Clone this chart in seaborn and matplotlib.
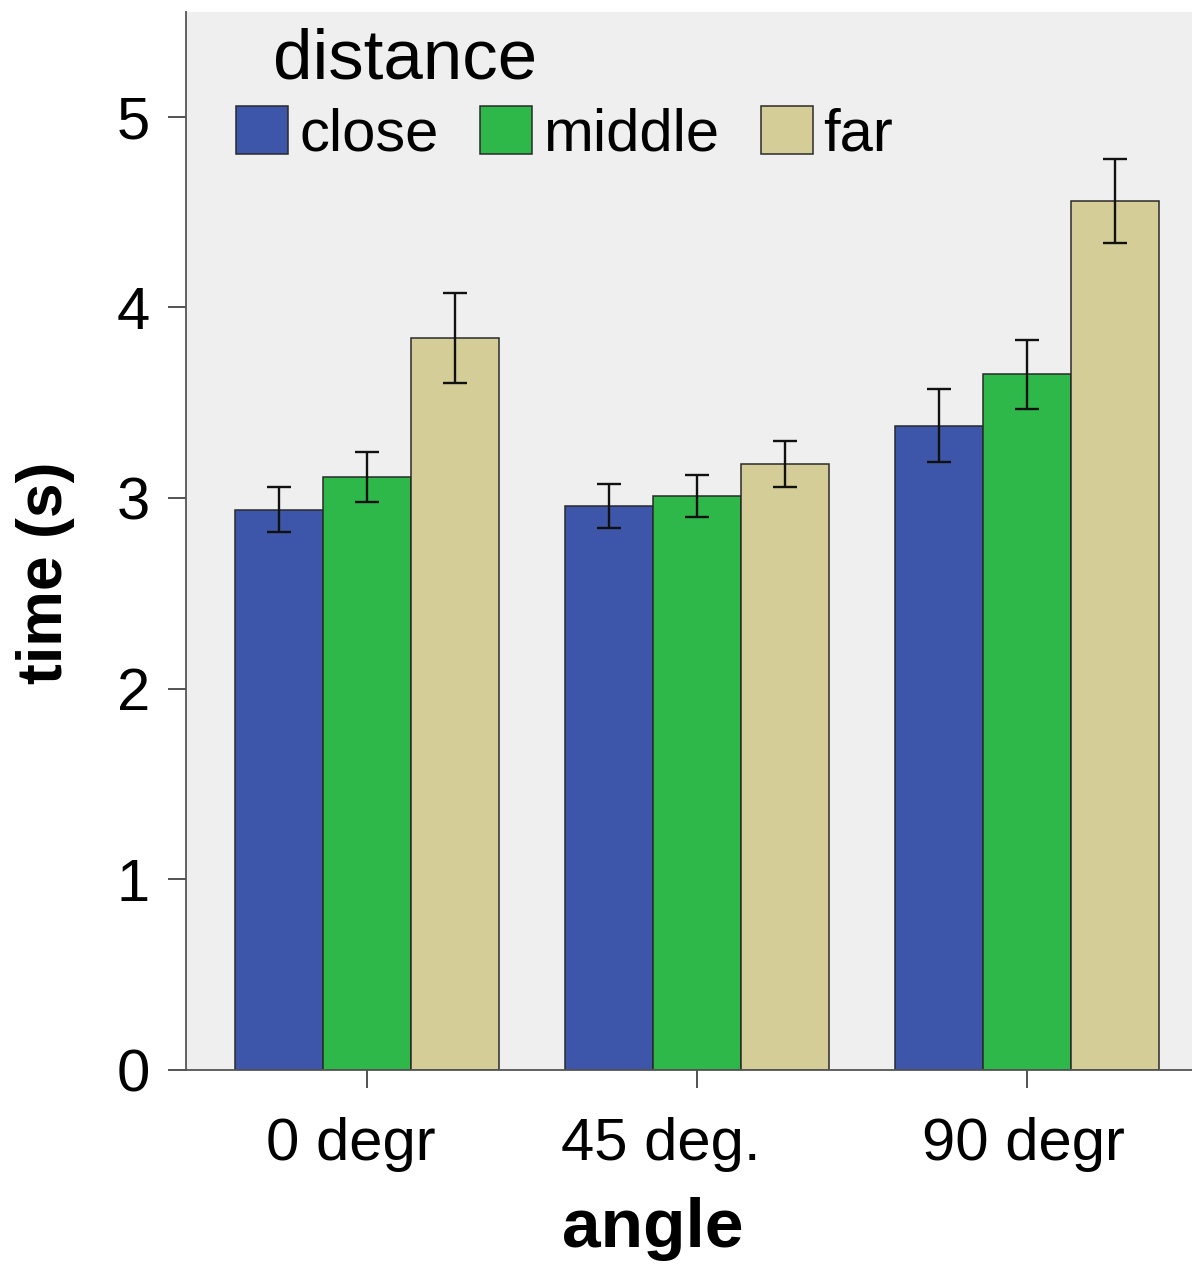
import numpy as np
import pandas as pd
import matplotlib
matplotlib.use("Agg")
import matplotlib.pyplot as plt
import matplotlib.transforms as mtrans
import seaborn as sns

# values
angles = ["0 degr", "45 deg.", "90 degr"]
distances = ["close", "middle", "far"]
time_close = [2.94, 2.96, 3.38]
time_middle = [3.11, 3.01, 3.65]
time_far = [3.84, 3.18, 4.56]
err_close = [0.12, 0.115, 0.19]
err_middle = [0.13, 0.11, 0.18]
err_far = [0.235, 0.12, 0.22]

colors = {"close": "#3e56a9", "middle": "#2eb84a", "far": "#d4cd97"}

rows = []
for d, vals, errs in zip(distances, [time_close, time_middle, time_far],
                         [err_close, err_middle, err_far]):
    for a, v, e in zip(angles, vals, errs):
        rows.append({"angle": a, "distance": d, "time": v, "err": e})
df = pd.DataFrame(rows)

sns.set_style("ticks")
plt.rcParams["font.family"] = ["Liberation Sans", "DejaVu Sans"]
plt.rcParams["text.color"] = "black"
plt.rcParams["axes.labelcolor"] = "black"

fig = plt.figure(figsize=(11.92, 12.69), dpi=100)
ax = fig.add_axes([186 / 1192, 199 / 1269, 1006 / 1192, 1058 / 1269])
ax.set_facecolor("#efefef")

sns.barplot(data=df, x="angle", y="time", hue="distance", order=angles,
            hue_order=distances, palette=colors, saturation=1, errorbar=None,
            edgecolor="#2a2a2a", linewidth=1.1, ax=ax)

# error bars at the centres of the bars seaborn drew
for cont, d in zip(ax.containers, distances):
    sub = df[df["distance"] == d].set_index("angle").loc[angles]
    xs = [p.get_x() + p.get_width() / 2 for p in cont.patches]
    ax.errorbar(xs, sub["time"], yerr=sub["err"], fmt="none", ecolor="#111111",
                elinewidth=1.7, capsize=8.5, capthick=1.7, zorder=5)

ax.set_xlim(-0.55, 2.5)
ax.set_ylim(0, 5.55)
ax.set_yticks([0, 1, 2, 3, 4, 5])
sns.despine(ax=ax)
for s in ["left", "bottom"]:
    ax.spines[s].set_color("#555555")
    ax.spines[s].set_linewidth(1.3)
ax.tick_params(axis="both", length=13, width=1.3, color="#444444",
               labelsize=43, labelcolor="black")
ax.tick_params(axis="y", pad=13)
ax.tick_params(axis="x", pad=21)

# the x labels sit a little left of their ticks in the reference
shifts = [-17, -36, -4]
for lab, dx in zip(ax.get_xticklabels(), shifts):
    lab.set_transform(lab.get_transform() +
                      mtrans.ScaledTranslation(dx / 100, 0, fig.dpi_scale_trans))

ax.set_xlabel("angle", fontsize=50, fontweight="bold")
ax.set_ylabel("time (s)", fontsize=45, fontweight="bold")
ax.xaxis.set_label_coords(0.464, -0.12)
ax.yaxis.set_label_coords(-0.11, 0.47)

handles, labels = ax.get_legend_handles_labels()
leg = ax.legend(handles, labels, title="distance", ncol=3, frameon=False,
                loc="upper left", bbox_to_anchor=(0.05, 0.985),
                borderpad=0, borderaxespad=0, fontsize=43, title_fontsize=51,
                handlelength=0.87, handleheight=0.87, handletextpad=0.18,
                columnspacing=0.7, labelspacing=0.2, alignment="left")
leg.get_title().set_x(37)

fig.savefig("out.png", dpi=100)
